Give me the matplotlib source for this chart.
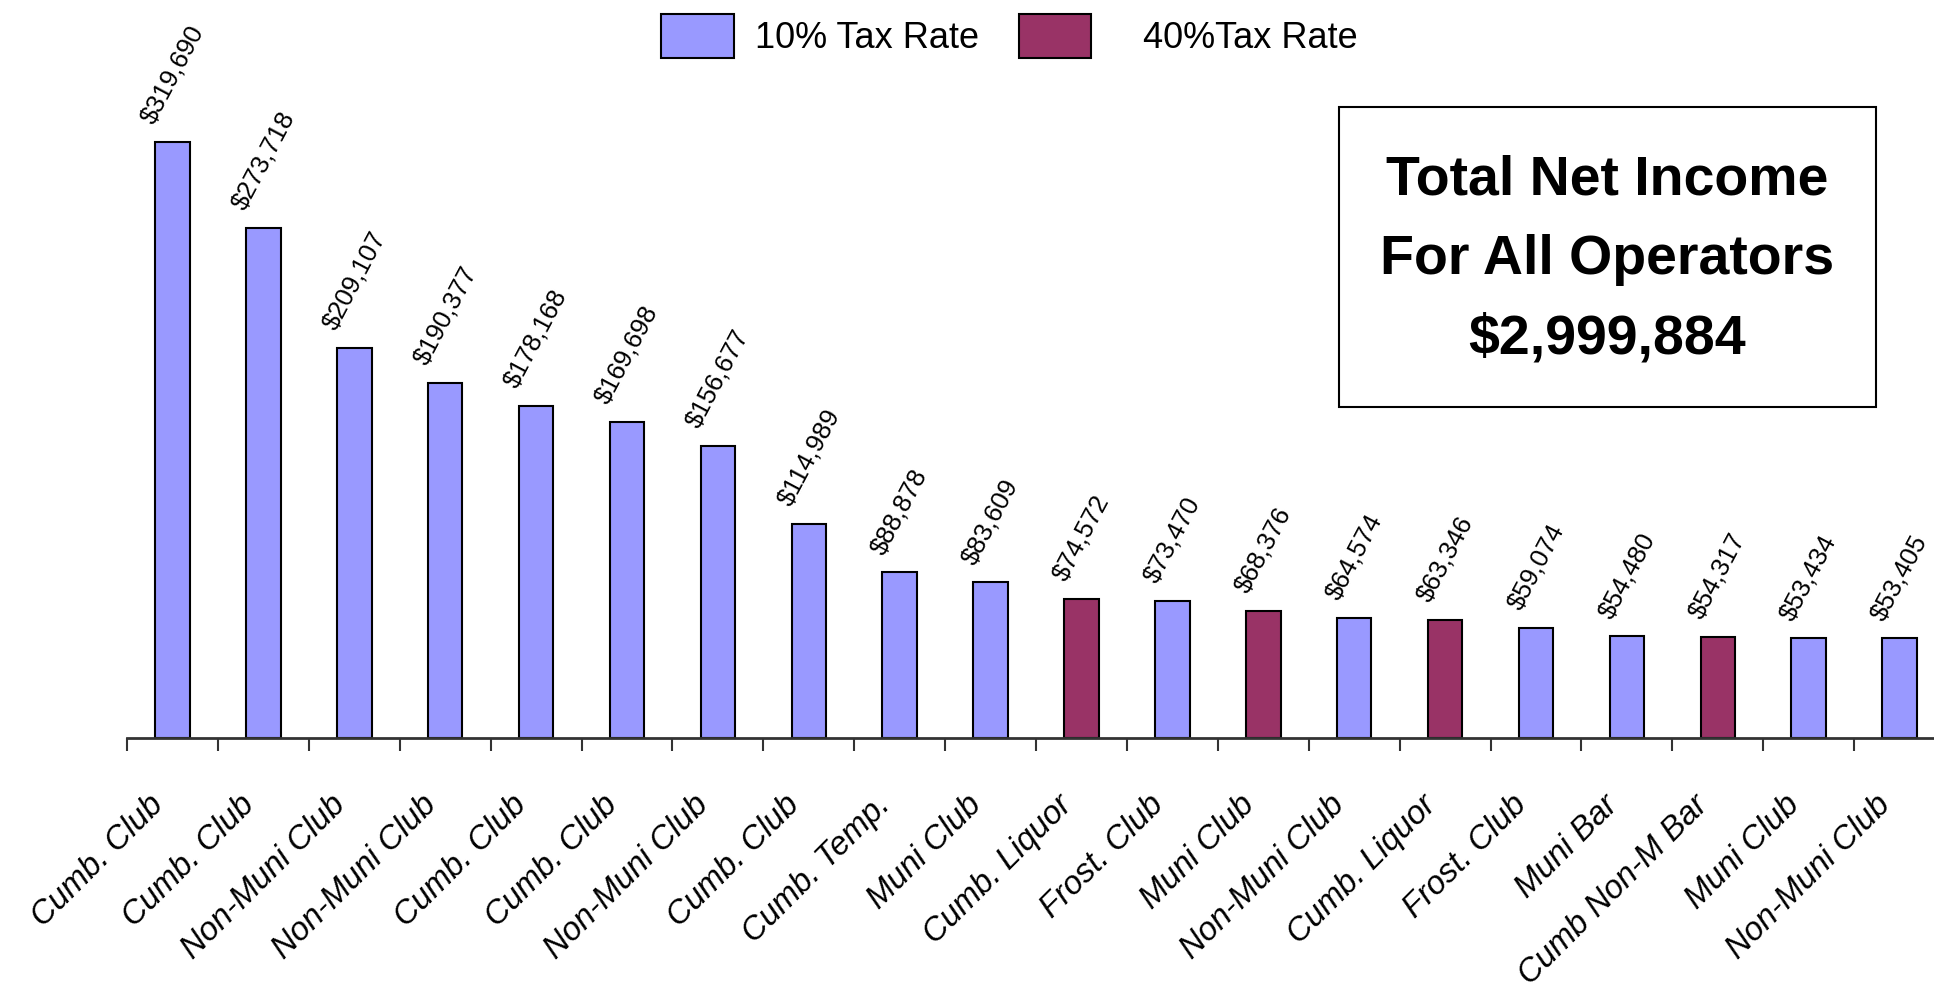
import numpy as np
import matplotlib
matplotlib.use('Agg')
import matplotlib.pyplot as plt
from matplotlib.patches import Rectangle, Patch
from matplotlib.transforms import ScaledTranslation

plt.rcParams['font.family'] = ['Liberation Sans', 'DejaVu Sans']

# donnees
categories = ["Cumb. Club", "Cumb. Club", "Non-Muni Club", "Non-Muni Club", "Cumb. Club",
              "Cumb. Club", "Non-Muni Club", "Cumb. Club", "Cumb. Temp.", "Muni Club",
              "Cumb. Liquor", "Frost. Club", "Muni Club", "Non-Muni Club", "Cumb. Liquor",
              "Frost. Club", "Muni Bar", "Cumb Non-M Bar", "Muni Club", "Non-Muni Club"]
net_income = [319690, 273718, 209107, 190377, 178168, 169698, 156677, 114989, 88878, 83609,
              74572, 73470, 68376, 64574, 63346, 59074, 54480, 54317, 53434, 53405]
tax_rate = [10, 10, 10, 10, 10, 10, 10, 10, 10, 10,
            40, 10, 40, 10, 40, 10, 10, 40, 10, 10]
legend_labels = ["10% Tax Rate", "   40%Tax Rate"]
total_label = "Total Net Income\nFor All Operators\n$2,999,884"

col10 = '#9999FF'
col40 = '#993366'

fig = plt.figure(figsize=(19.34, 9.92), dpi=100)
ax = fig.add_axes([0.0657, 0.256, 0.940, 0.744])

x = np.arange(len(categories))
colors = [col10 if r == 10 else col40 for r in tax_rate]
ax.bar(x, net_income, width=0.38, color=colors, edgecolor='black', linewidth=1.5)

ax.set_xlim(-0.5, len(categories) - 0.5)
ax.set_ylim(0, 319690 * 0.744 / 0.601)

# etiquettes de valeur
for xi, v in zip(x, net_income):
    ax.annotate("${:,}".format(v), (xi, v), xytext=(0, 10), textcoords='offset points',
                rotation=62, ha='center', va='bottom', fontsize=18.5,
                annotation_clip=False)

# axes
for s in ['left', 'top', 'right']:
    ax.spines[s].set_visible(False)
ax.spines['bottom'].set_color('#333333')
ax.spines['bottom'].set_linewidth(2)
ax.set_yticks([])
ax.set_xticks(x)
ax.set_xticklabels(categories, rotation=45, ha='right', va='center',
                   rotation_mode='anchor', fontsize=23.5, style='italic')
ax.tick_params(axis='x', which='major', length=0, pad=45)
decal = ScaledTranslation(-0.14, 0, fig.dpi_scale_trans)
for lab in ax.get_xticklabels():
    lab.set_transform(lab.get_transform() + decal)
ax.set_xticks(np.arange(len(categories)) - 0.5, minor=True)
ax.tick_params(axis='x', which='minor', length=9, width=1.5, color='#333333')

# legende
handles = [Patch(facecolor=col10, edgecolor='black', linewidth=1.5),
           Patch(facecolor=col40, edgecolor='black', linewidth=1.5)]
fig.legend(handles, legend_labels, loc='center', bbox_to_anchor=(0.522, 0.964), ncol=2,
           frameon=False, fontsize=26, handlelength=2.0, handleheight=1.5,
           handletextpad=0.6, columnspacing=1.1)

# encadre total
fig.patches.append(Rectangle((0.6923, 0.590), 0.2777, 0.302, transform=fig.transFigure,
                             facecolor='white', edgecolor='black', linewidth=1.5))
fig.text(0.831, 0.738, total_label, ha='center', va='center', fontsize=40,
         fontweight='bold', linespacing=1.68)

plt.savefig('out.png', dpi=100)
